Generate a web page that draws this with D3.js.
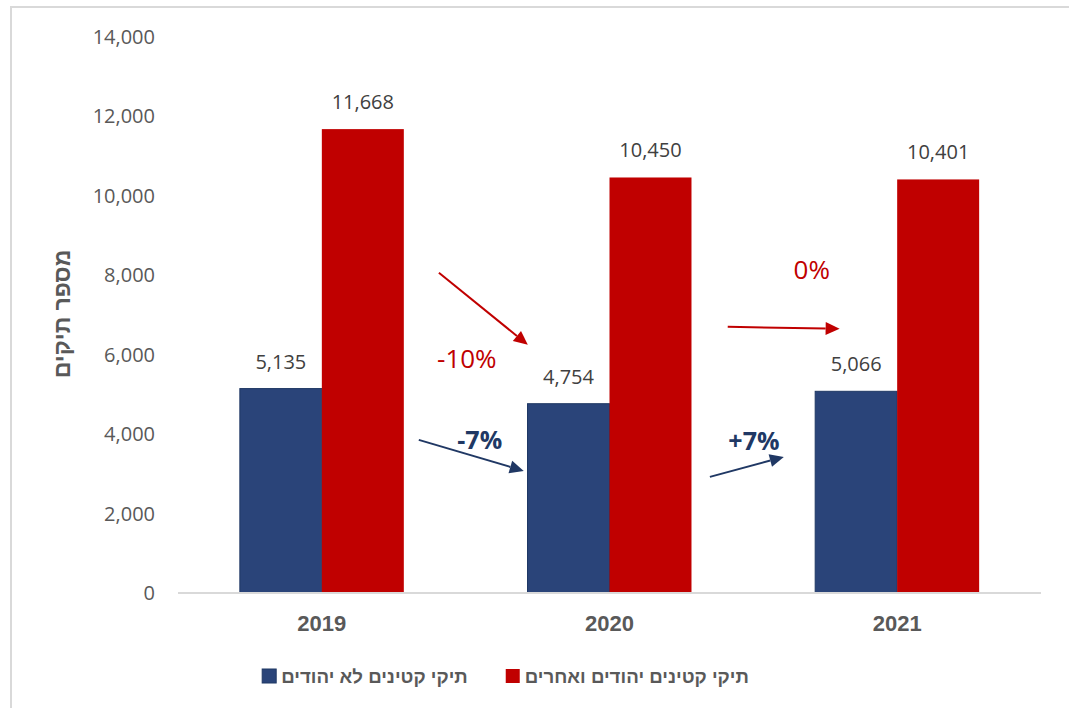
<!DOCTYPE html>
<html><head><meta charset="utf-8">
<script src="https://cdn.jsdelivr.net/npm/d3@7"></script>
<style>html,body{margin:0;padding:0;background:#fff;}svg{display:block;}</style>
</head><body>
<svg id="chart" width="1069" height="708"></svg>
<script>
// ---- data ----
const years = ["2019", "2020", "2021"];
const seriesNames = ["תיקי קטינים לא יהודים", "תיקי קטינים יהודים ואחרים"];
const nonJewish = [5135, 4754, 5066];
const jewishOther = [11668, 10450, 10401];
const yTicks = [0, 2000, 4000, 6000, 8000, 10000, 12000, 14000];
const yTitle = "מספר תיקים";
// change annotations: [fromIndex, fromValue, toIndex, toValue] in category/value space
const changeLabels = ["-10%", "-7%", "0%", "+7%"];
const changeSeries = [1, 0, 1, 0];
const changeArrows = [[0.407, 8052, 0.716, 6237], [0.337, 3843, 0.702, 3062], [1.411, 6691, 1.800, 6641], [1.349, 2911, 1.606, 3415]];
const changeLabelPos = [[0.504, 5658], [0.549, 3616], [1.703, 7901], [1.502, 3591]];

const colors = ["#2a4479", "#c00000"];
const textColors = ["#203864", "#c00000"];

(function () {
const svg = d3.select("#chart");
const plotL = 178, plotR = 1041, plotT = 36.5, base = 592.5;

// frame
svg.append("rect").attr("x", 11).attr("y", 7).attr("width", 1100).attr("height", 800)
  .attr("fill", "none").attr("stroke", "#d9d9d9").attr("stroke-width", 2);

const x = d3.scaleBand().domain(years).range([plotL, plotR]).paddingInner(0.43).paddingOuter(0.215);
const xs = d3.scaleBand().domain([0, 1]).range([0, x.bandwidth()]);
const y = d3.scaleLinear().domain([0, 14000]).range([base, plotT]);
const xi = d3.scaleLinear().domain([0, 2]).range([x(years[0]) + x.bandwidth() / 2, x(years[2]) + x.bandwidth() / 2]);

// y axis labels
const yAxis = d3.axisLeft(y).tickValues(yTicks).tickSize(0).tickPadding(0).tickFormat(d3.format(","));
const gy = svg.append("g").attr("transform", `translate(155,0)`).call(yAxis);
gy.select(".domain").remove();
gy.selectAll("text").attr("font-family", "'Open Sans', sans-serif").attr("font-size", 20).attr("fill", "#595959").attr("dy", "0.35em");

// y title
svg.append("text").attr("transform", `translate(70,314) rotate(-90)`).attr("text-anchor", "middle")
  .attr("font-family", "'Liberation Sans', Arial, sans-serif").attr("font-weight", "bold").attr("font-size", 23)
  .attr("fill", "#595959").text(yTitle);

// bars
const series = [nonJewish, jewishOther];
series.forEach((vals, si) => {
  svg.append("g").selectAll("rect").data(vals).join("rect")
    .attr("x", (d, i) => x(years[i]) + xs(si))
    .attr("y", d => y(d))
    .attr("width", xs.bandwidth())
    .attr("height", d => base - y(d))
    .attr("fill", colors[si])
    .attr("stroke", si === 0 ? "#1f3864" : "none").attr("stroke-width", 1);
  svg.append("g").selectAll("text").data(vals).join("text")
    .attr("x", (d, i) => x(years[i]) + xs(si) + xs.bandwidth() / 2)
    .attr("y", d => y(d) - 20)
    .attr("text-anchor", "middle")
    .attr("font-family", "'Open Sans', sans-serif").attr("font-size", 20).attr("fill", "#404040")
    .text(d => d3.format(",")(d));
});

// x baseline
svg.append("line").attr("x1", plotL).attr("x2", plotR).attr("y1", base + 0.5).attr("y2", base + 0.5)
  .attr("stroke", "#d9d9d9").attr("stroke-width", 2);

// x labels
const xAxis = d3.axisBottom(x).tickSize(0).tickPadding(0);
const gx = svg.append("g").attr("transform", `translate(0,${base})`).call(xAxis);
gx.select(".domain").remove();
gx.selectAll("text").attr("dy", null).attr("y", 38).attr("font-family", "'Liberation Sans', Arial, sans-serif")
  .attr("font-weight", "bold").attr("font-size", 22).attr("fill", "#595959");

// change arrows
changeArrows.forEach((a, k) => {
  const c = textColors[changeSeries[k]];
  const x1 = xi(a[0]), y1 = y(a[1]), x2 = xi(a[2]), y2 = y(a[3]);
  const ang = Math.atan2(y2 - y1, x2 - x1);
  const L = 14, hw = 6.5;
  const bx = x2 - L * Math.cos(ang), by = y2 - L * Math.sin(ang);
  svg.append("line").attr("x1", x1).attr("y1", y1).attr("x2", bx).attr("y2", by)
    .attr("stroke", c).attr("stroke-width", 2);
  const p = [[x2, y2], [bx + hw * Math.sin(ang), by - hw * Math.cos(ang)], [bx - hw * Math.sin(ang), by + hw * Math.cos(ang)]];
  svg.append("path").attr("d", d3.line()(p) + "Z").attr("fill", c);
});
changeLabelPos.forEach((p, k) => {
  svg.append("text").attr("x", xi(p[0])).attr("y", y(p[1])).attr("text-anchor", "middle")
    .attr("font-family", "'Open Sans', sans-serif").attr("font-size", changeSeries[k] === 0 ? 25 : 26)
    .attr("font-weight", changeSeries[k] === 0 ? "bold" : "normal")
    .attr("fill", textColors[changeSeries[k]]).text(changeLabels[k]);
});

// legend
const lg = svg.append("g");
const items = seriesNames.map((n, i) => {
  const t = lg.append("text").attr("y", 683).attr("font-family", "'Liberation Sans', Arial, sans-serif")
    .attr("font-weight", "bold").attr("font-size", 18.7).attr("fill", "#595959").text(n);
  return {t, w: t.node().getComputedTextLength(), i};
});
const sq = 14, gapSq = 5, gapItem = 38;
const total = items.reduce((s, it) => s + sq + gapSq + it.w, 0) + gapItem;
let cx = 505.5 - total / 2;
items.forEach(it => {
  lg.append("rect").attr("x", cx).attr("y", 669).attr("width", sq).attr("height", sq)
    .attr("fill", colors[it.i]).attr("stroke", it.i === 0 ? "#1f3864" : "none");
  cx += sq + gapSq;
  it.t.attr("x", cx);
  cx += it.w + gapItem;
});
})();
</script>
</body></html>
